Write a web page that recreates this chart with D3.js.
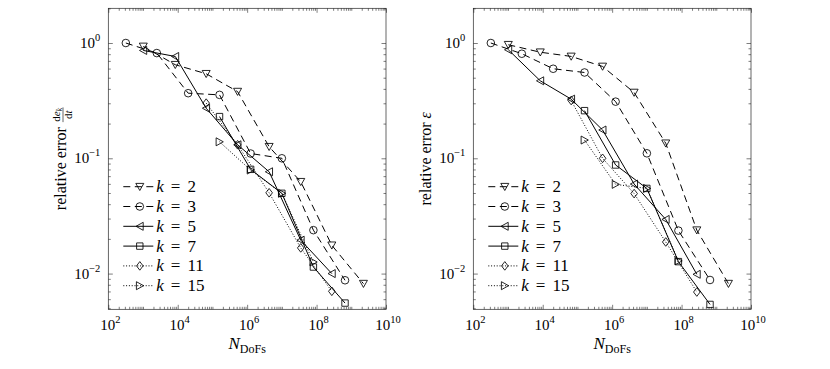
<!DOCTYPE html>
<html>
<head>
<meta charset="utf-8">
<script src="https://cdn.jsdelivr.net/npm/d3@7"></script>
<style>
  body { margin: 0; background: #fff; }
  svg text, svg tspan { font-family: "Liberation Serif", "Times New Roman", "DejaVu Serif", serif; fill: #000; }
</style>
</head>
<body>
<svg id="chart" width="830" height="369" font-family="Liberation Serif, serif"></svg>
<script>
// number of degrees of freedom for each polynomial degree k
var dofsK2  = [1.02e3, 8.5e3, 6.6e4, 5.3e5, 4.3e6, 3.5e7, 2.75e8, 2.24e9];
var dofsK3  = [3.2e2, 2.5e3, 2.0e4, 1.6e5, 1.26e6, 1.0e7, 8.1e7, 6.6e8];
var dofsK5  = [1.02e3, 8.5e3, 6.6e4, 5.3e5, 4.3e6, 3.5e7, 2.75e8];
var dofsK7  = [1.6e5, 1.26e6, 1.0e7, 8.1e7, 6.6e8];
var dofsK11 = [6.6e4, 5.3e5, 4.3e6, 3.5e7, 2.75e8];
var dofsK15 = [1.6e5, 1.26e6, 1.0e7, 8.1e7];

// left panel: relative error of de_k/dt
var errRateK2  = [0.934, 0.648, 0.541, 0.379, 0.126, 0.0626, 0.0176, 0.00818];
var errRateK3  = [1.0, 0.818, 0.367, 0.355, 0.110, 0.100, 0.0238, 0.00875];
var errRateK5  = [0.862, 0.764, 0.272, 0.131, 0.0764, 0.0195, 0.0100];
var errRateK7  = [0.230, 0.0802, 0.0497, 0.0114, 0.00555];
var errRateK11 = [0.301, 0.131, 0.0502, 0.0167, 0.00702];
var errRateK15 = [0.139, 0.0791, 0.0497, 0.0126];

// right panel: relative error epsilon
var errEpsK2  = [0.966, 0.832, 0.765, 0.626, 0.372, 0.135, 0.0238, 0.00818];
var errEpsK3  = [1.0, 0.807, 0.598, 0.555, 0.310, 0.1105, 0.0236, 0.0088];
var errEpsK5  = [0.874, 0.470, 0.326, 0.176, 0.0598, 0.0295, 0.00986];
var errEpsK7  = [0.259, 0.0875, 0.0548, 0.0127, 0.0054];
var errEpsK11 = [0.317, 0.100, 0.0494, 0.0188, 0.00692];
var errEpsK15 = [0.144, 0.0594, 0.0548, 0.0129];

var kValues = [2, 3, 5, 7, 11, 15];
var xTickExps = [2, 4, 6, 8, 10];
var yTickExps = [-2, -1, 0];

var series = [
  {k: 2,  dofs: dofsK2,  rate: errRateK2,  eps: errEpsK2,  dash: "7,4.5", marker: "down"},
  {k: 3,  dofs: dofsK3,  rate: errRateK3,  eps: errEpsK3,  dash: "7,4.5", marker: "circle"},
  {k: 5,  dofs: dofsK5,  rate: errRateK5,  eps: errEpsK5,  dash: null,    marker: "left"},
  {k: 7,  dofs: dofsK7,  rate: errRateK7,  eps: errEpsK7,  dash: null,    marker: "square"},
  {k: 11, dofs: dofsK11, rate: errRateK11, eps: errEpsK11, dash: "1,1.8", marker: "diamond"},
  {k: 15, dofs: dofsK15, rate: errRateK15, eps: errEpsK15, dash: "1,1.8", marker: "right"}
];

var axisColor = "#262626";
var serif = "'Liberation Serif', 'Times New Roman', 'DejaVu Serif', serif";
var yTop = 8.3, yBottom = 309.3;
var panels = [
  {x0: 108.3, x1: 386, key: "rate", label: "rate"},
  {x0: 473.3, x1: 751, key: "eps",  label: "eps"}
];

function markerPath(type) {
  switch (type) {
    case "down":    return "M-4,-3.3L4,-3.3L0,3.8Z";
    case "left":    return "M-3.8,0L3.4,-4L3.4,4Z";
    case "right":   return "M3.8,0L-3.4,-4L-3.4,4Z";
    case "square":  return "M-3.2,-3.2H3.2V3.2H-3.2Z";
    case "diamond": return "M0,-4.3L3.3,0L0,4.3L-3.3,0Z";
    default:        return "M3.8,0A3.8,3.8 0 1,1 -3.8,0A3.8,3.8 0 1,1 3.8,0Z";
  }
}

var svg = d3.select("#chart");

// minor tick values for log axes
function minorTicks(lo, hi, majors) {
  var out = [];
  for (var e = Math.floor(Math.log10(lo)); e <= Math.ceil(Math.log10(hi)); e++) {
    for (var m = 1; m < 10; m++) {
      var v = m * Math.pow(10, e);
      if (v >= lo * 0.999 && v <= hi * 1.001 && majors.indexOf(v) < 0) out.push(v);
    }
  }
  return out;
}

function txt(sel) {
  return sel.append("text").style("font-family", serif);
}

panels.forEach(function(p) {
  var x = d3.scaleLog().domain([1e2, 1e10]).range([p.x0, p.x1]);
  var y = d3.scaleLog().domain([0.0049, 2]).range([yBottom, yTop]);
  var g = svg.append("g");

  var xMaj = xTickExps.map(function(e) { return Math.pow(10, e); });
  var yMaj = yTickExps.map(function(e) { return Math.pow(10, e); });
  var xMin = minorTicks(1e2, 1e10, xMaj);
  var yMin = minorTicks(0.0049, 2, yMaj);

  function drawAxis(gen, vals, size, tr) {
    var a = g.append("g").attr("transform", tr)
      .call(gen.tickValues(vals).tickSizeInner(-size).tickSizeOuter(0).tickFormat(""));
    a.select(".domain").remove();
    a.selectAll("line").attr("stroke", axisColor).attr("stroke-width", 0.6);
  }
  [[xMaj, 4.5], [xMin, 2.5]].forEach(function(t) {
    drawAxis(d3.axisBottom(x), t[0], t[1], "translate(0," + yBottom + ")");
    drawAxis(d3.axisTop(x), t[0], t[1], "translate(0," + yTop + ")");
  });
  [[yMaj, 4.5], [yMin, 2.5]].forEach(function(t) {
    drawAxis(d3.axisLeft(y), t[0], t[1], "translate(" + p.x0 + ",0)");
    drawAxis(d3.axisRight(y), t[0], t[1], "translate(" + p.x1 + ",0)");
  });

  g.append("rect")
    .attr("x", p.x0).attr("y", yTop)
    .attr("width", p.x1 - p.x0).attr("height", yBottom - yTop)
    .attr("fill", "none").attr("stroke", axisColor).attr("stroke-width", 0.7);

  // tick labels
  xTickExps.forEach(function(e) {
    var t = txt(g)
      .attr("x", x(Math.pow(10, e)) + 2).attr("y", yBottom + 21)
      .attr("text-anchor", "middle").style("font-size", "15px");
    t.append("tspan").text("10");
    t.append("tspan").attr("dy", -7).style("font-size", "10.5px").text(e);
  });
  yTickExps.forEach(function(e) {
    var t = txt(g)
      .attr("x", p.x0 - 8).attr("y", y(Math.pow(10, e)) + 5)
      .attr("text-anchor", "end").style("font-size", "15px");
    t.append("tspan").text("10");
    t.append("tspan").attr("dy", -7).style("font-size", "10.5px")
      .text(e < 0 ? "\u2212" + (-e) : e);
  });

  // x label
  var xl = txt(g)
    .attr("x", (p.x0 + p.x1) / 2).attr("y", yBottom + 40)
    .attr("text-anchor", "middle");
  xl.append("tspan").style("font-style", "italic").style("font-size", "17px").text("N");
  xl.append("tspan").attr("dy", 4).style("font-size", "12px").text("DoFs");

  // y label
  var yl = g.append("g")
    .attr("transform", "translate(" + (p.x0 - 42.3) + "," + ((yTop + yBottom) / 2) + ") rotate(-90)");
  var inner = yl.append("g");
  var main = txt(inner).attr("x", 0).attr("y", 0).style("font-size", "16px")
    .text("relative error");
  var w = main.node().getComputedTextLength();
  var total;
  if (p.label === "rate") {
    var fx = w + 5;
    var fr = inner.append("g").attr("transform", "translate(" + fx + ",-3)");
    var num = txt(fr).attr("y", -3).style("font-size", "11px").attr("text-anchor", "middle");
    num.append("tspan").text("d");
    num.append("tspan").style("font-style", "italic").text("e");
    num.append("tspan").attr("dy", 2).style("font-size", "7.5px").style("font-style", "italic").text("k");
    var den = txt(fr).attr("y", 9).style("font-size", "11px").attr("text-anchor", "middle");
    den.append("tspan").text("d");
    den.append("tspan").style("font-style", "italic").text("t");
    var fw = Math.max(num.node().getComputedTextLength(), den.node().getComputedTextLength()) + 1;
    num.attr("x", fw / 2); den.attr("x", fw / 2);
    fr.append("line").attr("x1", 0).attr("x2", fw).attr("y1", 0).attr("y2", 0)
      .attr("stroke", "#000").attr("stroke-width", 0.6);
    total = fx + fw;
  } else {
    var ep = txt(inner).attr("x", w + 4).attr("y", 0)
      .style("font-size", "16px").style("font-style", "italic").text("\u03b5");
    total = w + 4 + ep.node().getComputedTextLength();
  }
  inner.attr("transform", "translate(" + (-total / 2) + ",0)");

  // data
  var line = d3.line().x(function(d) { return x(d[0]); }).y(function(d) { return y(d[1]); });
  series.forEach(function(s) {
    var pts = s.dofs.map(function(n, i) { return [n, s[p.key][i]]; });
    g.append("path").datum(pts).attr("d", line)
      .attr("fill", "none").attr("stroke", "#000").attr("stroke-width", 1)
      .attr("stroke-dasharray", s.dash);
    g.selectAll(null).data(pts).enter().append("path")
      .attr("transform", function(d) { return "translate(" + x(d[0]) + "," + y(d[1]) + ")"; })
      .attr("d", markerPath(s.marker))
      .attr("fill", "none").attr("stroke", "#000").attr("stroke-width", 0.85);
  });

  // legend
  var lg = g.append("g");
  series.forEach(function(s, i) {
    var cy = 186.7 + i * 19.8;
    lg.append("line")
      .attr("x1", p.x0 + 15).attr("x2", p.x0 + 45).attr("y1", cy).attr("y2", cy)
      .attr("stroke", "#000").attr("stroke-width", 1).attr("stroke-dasharray", s.dash);
    lg.append("path").attr("transform", "translate(" + (p.x0 + 31.5) + "," + cy + ")")
      .attr("d", markerPath(s.marker))
      .attr("fill", "none").attr("stroke", "#000").attr("stroke-width", 0.85);
    var t = txt(lg).attr("x", p.x0 + 48).attr("y", cy + 5.5).style("font-size", "17px");
    t.append("tspan").style("font-style", "italic").text("k");
    t.append("tspan").attr("dx", 7).text("=");
    t.append("tspan").attr("dx", 7).text(kValues[i]);
  });
});
</script>
</body>
</html>
